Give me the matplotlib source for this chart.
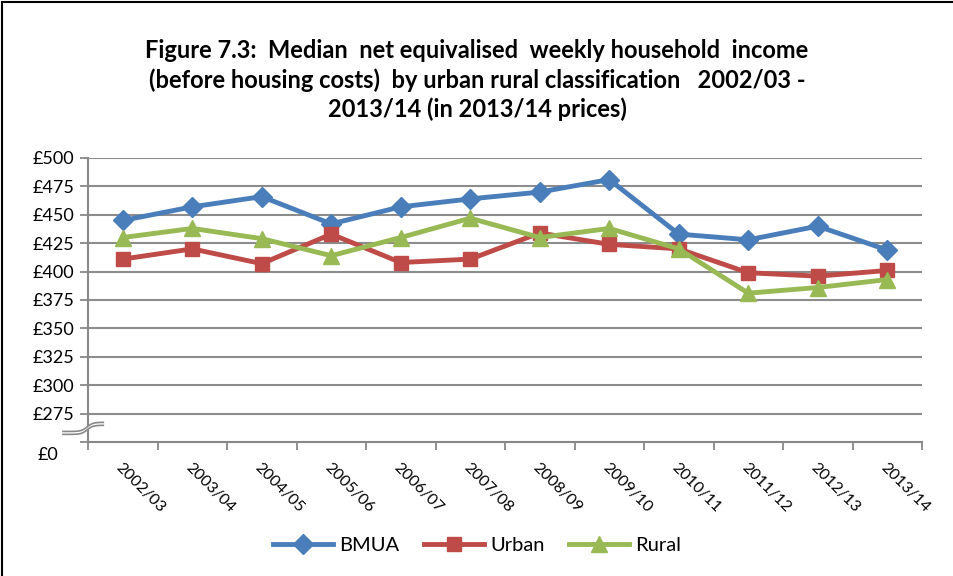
import matplotlib.pyplot as plt
import numpy as np
from matplotlib.patches import Rectangle, Polygon

years = ['2002/03', '2003/04', '2004/05', '2005/06', '2006/07', '2007/08',
         '2008/09', '2009/10', '2010/11', '2011/12', '2012/13', '2013/14']
bmua = [445, 457, 466, 442, 457, 464, 470, 481, 433, 428, 440, 419]
urban = [411, 420, 407, 433, 408, 411, 434, 424, 420, 399, 396, 401]
rural = [430, 438, 429, 414, 430, 447, 430, 438, 420, 381, 386, 393]

ytick_vals = [250, 275, 300, 325, 350, 375, 400, 425, 450, 475, 500]
ytick_labels = ['', '£275', '£300', '£325', '£350', '£375', '£400',
                '£425', '£450', '£475', '£500']

plt.rcParams['font.family'] = ['Lato', 'DejaVu Sans']

fig = plt.figure(figsize=(9.54, 5.76), dpi=100)
ax = fig.add_axes([88 / 954, 1 - 442 / 576, (922 - 88) / 954, (442 - 158) / 576])

x = np.arange(len(years))
ax.plot(x, bmua, color='#4A7EBB', lw=3.5, marker='D', ms=10, label='BMUA')
ax.plot(x, urban, color='#BE4B48', lw=3.5, marker='s', ms=10, label='Urban')
ax.plot(x, rural, color='#98B954', lw=3.5, marker='^', ms=11, label='Rural')

ax.set_xlim(-0.5, len(years) - 0.5)
ax.set_ylim(250, 500)
ax.set_yticks(ytick_vals)
ax.set_yticklabels(ytick_labels, fontsize=13)
ax.set_xticks(x)
ax.set_xticklabels(years, rotation=-45, ha='left', va='top', rotation_mode='anchor', fontsize=11.5)
ax.set_xticks(np.arange(-0.5, len(years)), minor=True)
ax.tick_params(axis='x', which='major', length=0, pad=13)
ax.tick_params(axis='x', which='minor', length=6, color='#888888', width=1.3)
ax.tick_params(axis='y', length=6, color='#888888', width=1.3, pad=4)

# £0 label sits below the axis line
ax.annotate('£0', xy=(0, 250), xycoords=('axes fraction', 'data'), xytext=(-30, -13),
            textcoords='offset pixels', ha='right', va='center', fontsize=13)

for v in ytick_vals[1:]:
    ax.axhline(v, color='#8c8c8c', lw=1.5, zorder=0)
for s in ['top', 'right']:
    ax.spines[s].set_visible(False)
for s in ['left', 'bottom']:
    ax.spines[s].set_color('#888888')
    ax.spines[s].set_linewidth(1.5)

# axis break mark on the y axis
t = np.linspace(0, 1, 30)
bx = -0.86 + 0.58 * t
by = 262 + 4 * np.tanh((t - 0.6) * 7)
poly = Polygon(np.column_stack([np.r_[bx, bx[::-1]], np.r_[by - 1.3, by[::-1] + 1.3]]),
               closed=True, facecolor='white', edgecolor='none', clip_on=False, zorder=5)
ax.add_patch(poly)
ax.plot(bx, by - 1.3, color='#888888', lw=1.2, clip_on=False, zorder=6)
ax.plot(bx, by + 1.3, color='#888888', lw=1.2, clip_on=False, zorder=6)

fig.text(0.5, 1 - 80 / 576,
         'Figure 7.3:  Median  net equivalised  weekly household  income\n'
         '(before housing costs)  by urban rural classification   2002/03 -\n'
         '2013/14 (in 2013/14 prices)',
         ha='center', va='center', fontsize=17, fontweight='bold', linespacing=1.3)

fig.legend(loc='center', bbox_to_anchor=(0.5, 1 - 545 / 576), ncol=3, frameon=False,
           fontsize=14.5, handlelength=3, columnspacing=1.2, handletextpad=0.3)

fig.patches.append(Rectangle((0.002, -0.01), 1.1, 1.0065, transform=fig.transFigure,
                             fill=False, edgecolor='black', lw=1.5))

fig.savefig('out.png', dpi=100)
